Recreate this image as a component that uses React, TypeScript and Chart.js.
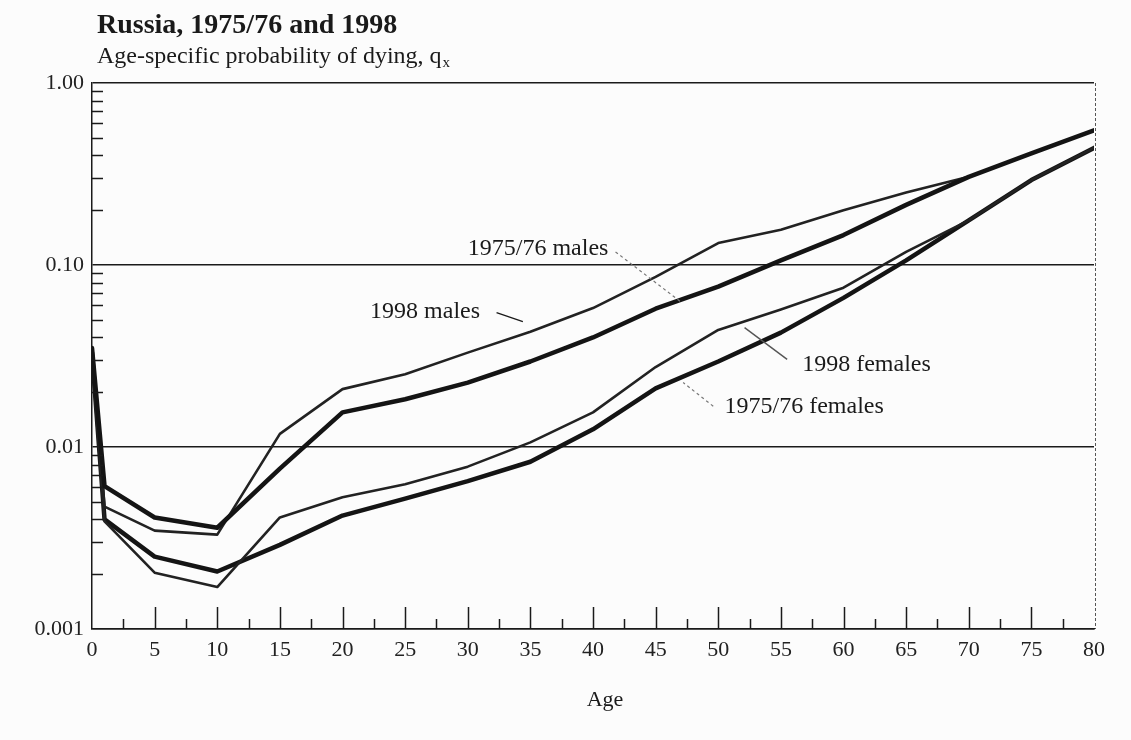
import React, { useEffect, useRef } from "react";
import { Chart, registerables } from "chart.js";

Chart.register(...registerables);

// ---- data ----
const ages = [0, 1, 5, 10, 15, 20, 25, 30, 35, 40, 45, 50, 55, 60, 65, 70, 75, 80];
const males1975 = [0.035, 0.0061, 0.0041, 0.0036, 0.0076, 0.0155, 0.0183, 0.0226, 0.0295, 0.04, 0.0575, 0.076, 0.106, 0.146, 0.214, 0.305, 0.41, 0.55];
const males1998 = [0.034, 0.0047, 0.00347, 0.0033, 0.0118, 0.0208, 0.0251, 0.033, 0.043, 0.058, 0.086, 0.132, 0.156, 0.2, 0.25, 0.305, 0.41, 0.55];
const females1998 = [0.031, 0.0039, 0.00204, 0.0017, 0.0041, 0.0053, 0.00625, 0.0078, 0.0106, 0.0155, 0.0275, 0.044, 0.057, 0.075, 0.118, 0.176, 0.293, 0.44];
const females1975 = [0.033, 0.004, 0.0025, 0.00207, 0.0029, 0.0042, 0.0052, 0.0065, 0.0083, 0.0125, 0.021, 0.0295, 0.0425, 0.066, 0.106, 0.176, 0.293, 0.44];

const xTickValues = [0, 5, 10, 15, 20, 25, 30, 35, 40, 45, 50, 55, 60, 65, 70, 75, 80];
const xMajorInner = [5, 10, 15, 20, 25, 30, 35, 40, 45, 50, 55, 60, 65, 70, 75];
const xMinorInner = [2.5, 7.5, 12.5, 17.5, 22.5, 27.5, 32.5, 37.5, 42.5, 47.5, 52.5, 57.5, 62.5, 67.5, 72.5, 77.5];
const yTickValues = [0.001, 0.01, 0.1, 1];
const yTickLabels = ["0.001", "0.01", "0.10", "1.00"];
const yDecades = [0.001, 0.01, 0.1];
const yMultipliers = [2, 3, 4, 5, 6, 7, 8, 9];

const titleText = "Russia, 1975/76 and 1998";
const subtitleText = "Age-specific probability of dying, q";
const subtitleSub = "x";
const xAxisTitle = "Age";

// annotation labels (anchored in data space)
const labelTexts = ["1975/76 males", "1998 males", "1998 females", "1975/76 females"];
const labelAges = [30.0, 22.2, 56.7, 50.5];
const labelValues = [0.1225, 0.0553, 0.0285, 0.0166];
const leaderFromAges = [41.8, 32.3, 55.5, 49.6];
const leaderFromValues = [0.118, 0.0547, 0.0303, 0.01675];
const leaderToAges = [47.0, 34.4, 52.1, 47.2];
const leaderToValues = [0.0628, 0.0489, 0.0453, 0.0226];
const leaderDashed = [true, false, false, true];

const SERIF = '"Liberation Serif", "Times New Roman", "DejaVu Serif", serif';
const INK = "#1a1a1a";

const decorPlugin = {
  id: "decor",
  afterDraw(chart: any) {
    const { ctx, chartArea: a, scales } = chart;
    const x = scales.x;
    const y = scales.y;
    ctx.save();

    // inward x ticks
    ctx.strokeStyle = INK;
    ctx.lineWidth = 1.5;
    for (const v of xMajorInner) {
      const px = Math.round(x.getPixelForValue(v)) + 0.5;
      ctx.beginPath();
      ctx.moveTo(px, a.bottom);
      ctx.lineTo(px, a.bottom - 22);
      ctx.stroke();
    }
    for (const v of xMinorInner) {
      const px = Math.round(x.getPixelForValue(v)) + 0.5;
      ctx.beginPath();
      ctx.moveTo(px, a.bottom);
      ctx.lineTo(px, a.bottom - 10);
      ctx.stroke();
    }
    // inward y minor ticks
    for (const d of yDecades) {
      for (const m of yMultipliers) {
        const py = Math.round(y.getPixelForValue(d * m)) + 0.5;
        ctx.beginPath();
        ctx.moveTo(a.left, py);
        ctx.lineTo(a.left + 11, py);
        ctx.stroke();
      }
    }
    // right border (thin, dotted)
    ctx.save();
    ctx.setLineDash([3, 2]);
    ctx.lineWidth = 1;
    ctx.strokeStyle = "#555";
    ctx.beginPath();
    ctx.moveTo(a.right + 1.5, a.top);
    ctx.lineTo(a.right + 1.5, a.bottom);
    ctx.stroke();
    ctx.restore();

    // title & subtitle
    ctx.fillStyle = INK;
    ctx.textBaseline = "alphabetic";
    ctx.textAlign = "left";
    ctx.font = `bold 28px ${SERIF}`;
    ctx.fillText(titleText, 97, 33);
    ctx.font = `24px ${SERIF}`;
    ctx.fillText(subtitleText, 97, 63);
    const w = ctx.measureText(subtitleText).width;
    ctx.font = `15px ${SERIF}`;
    ctx.fillText(subtitleSub, 97 + w + 1, 67);

    // x-axis title
    ctx.font = `22px ${SERIF}`;
    ctx.textAlign = "center";
    ctx.textBaseline = "middle";
    ctx.fillText(xAxisTitle, (a.left + a.right) / 2 + 12, 700);

    // annotations
    ctx.textAlign = "left";
    ctx.font = `24px ${SERIF}`;
    for (let i = 0; i < labelTexts.length; i++) {
      ctx.fillStyle = INK;
      ctx.fillText(labelTexts[i], x.getPixelForValue(labelAges[i]), y.getPixelForValue(labelValues[i]));
      ctx.save();
      if (leaderDashed[i]) {
        ctx.setLineDash([3, 3]);
        ctx.strokeStyle = "#777";
        ctx.lineWidth = 1.2;
      } else {
        ctx.strokeStyle = i === 1 ? INK : "#555";
        ctx.lineWidth = 1.4;
      }
      ctx.beginPath();
      ctx.moveTo(x.getPixelForValue(leaderFromAges[i]), y.getPixelForValue(leaderFromValues[i]));
      ctx.lineTo(x.getPixelForValue(leaderToAges[i]), y.getPixelForValue(leaderToValues[i]));
      ctx.stroke();
      ctx.restore();
    }
    ctx.restore();
  },
};

const bgPlugin = {
  id: "bg",
  beforeDraw(chart: any) {
    const { ctx, width, height } = chart;
    ctx.save();
    ctx.fillStyle = "#fcfcfc";
    ctx.fillRect(0, 0, width, height);
    ctx.restore();
  },
};

function toPoints(vals: number[]) {
  return ages.map((a, i) => ({ x: a, y: vals[i] }));
}

export default function App() {
  const ref = useRef<HTMLCanvasElement | null>(null);

  useEffect(() => {
    if (!ref.current) return;
    const thick = { borderWidth: 4.5, borderColor: "#141414", pointRadius: 0, tension: 0, borderJoinStyle: "round" as const, borderCapStyle: "round" as const, fill: false };
    const thin = { borderWidth: 2.6, borderColor: "#222222", pointRadius: 0, tension: 0, borderJoinStyle: "round" as const, borderCapStyle: "round" as const, fill: false };
    const chart = new Chart(ref.current, {
      type: "line",
      data: {
        datasets: [
          { label: "1975/76 males", data: toPoints(males1975), ...thick },
          { label: "1998 males", data: toPoints(males1998), ...thin },
          { label: "1998 females", data: toPoints(females1998), ...thin },
          { label: "1975/76 females", data: toPoints(females1975), ...thick },
        ],
      },
      options: {
        responsive: false,
        animation: false,
        parsing: false as any,
        layout: { padding: { top: 83, right: 37, left: 0, bottom: 0 } },
        plugins: {
          legend: { display: false },
          tooltip: { enabled: false },
          title: { display: false },
        },
        scales: {
          x: {
            type: "linear",
            min: 0,
            max: 80,
            afterBuildTicks: (s: any) => {
              s.ticks = xTickValues.map((v) => ({ value: v }));
            },
            afterFit: (s: any) => {
              s.height = 111;
            },
            ticks: {
              autoSkip: false,
              maxRotation: 0,
              padding: 8,
              color: "#222",
              font: { family: SERIF, size: 22 },
              callback: (v: any) => String(v),
            },
            grid: { display: false, drawTicks: false },
            border: { display: true, color: INK, width: 1.5 },
          },
          y: {
            type: "logarithmic",
            min: 0.001,
            max: 1,
            afterBuildTicks: (s: any) => {
              s.ticks = yTickValues.map((v) => ({ value: v }));
            },
            afterFit: (s: any) => {
              s.width = 92;
            },
            ticks: {
              autoSkip: false,
              padding: 8,
              color: "#222",
              font: { family: SERIF, size: 22 },
              callback: (v: any) => {
                const idx = yTickValues.findIndex((t) => Math.abs(Math.log10(t) - Math.log10(Number(v))) < 1e-6);
                return idx >= 0 ? yTickLabels[idx] : "";
              },
            },
            grid: { display: true, drawTicks: false, color: INK, lineWidth: 1.5 },
            border: { display: true, color: INK, width: 1.5 },
          },
        },
      },
      plugins: [bgPlugin, decorPlugin],
    });
    return () => chart.destroy();
  }, []);

  return (
    <div style={{ position: "fixed", left: 0, top: 0, width: 1131, height: 740, background: "#fcfcfc" }}>
      <canvas ref={ref} width={1131} height={740} style={{ display: "block", width: 1131, height: 740 }} />
    </div>
  );
}
